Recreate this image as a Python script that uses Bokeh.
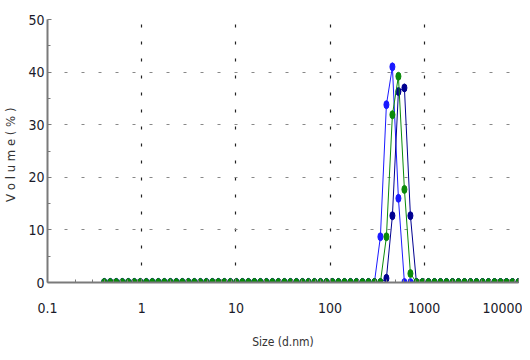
from bokeh.plotting import figure
from bokeh.models import Range1d, FixedTicker, ColumnDataSource
from bokeh.embed import file_html
from bokeh.resources import INLINE

# Size classes (d.nm), 70 log-spaced bins
sizes = [
    0.4000, 0.4632, 0.5364, 0.6213, 0.7195, 0.8332, 0.9649, 1.117, 1.294, 1.499,
    1.736, 2.010, 2.328, 2.696, 3.122, 3.615, 4.187, 4.849, 5.615, 6.503,
    7.531, 8.721, 10.10, 11.70, 13.54, 15.69, 18.17, 21.04, 24.36, 28.21,
    32.67, 37.84, 43.82, 50.75, 58.77, 68.06, 78.82, 91.28, 105.7, 122.4,
    141.8, 164.2, 190.1, 220.2, 255.0, 295.3, 342.0, 396.1, 458.7, 531.2,
    615.1, 712.4, 825.0, 955.4, 1106, 1281, 1484, 1718, 1990, 2305,
    2669, 3091, 3580, 4145, 4801, 5560, 6439, 7456, 8635, 10000,
]

# Volume (%) for three measurements
vol_blue = [
    0, 0, 0, 0, 0, 0, 0, 0, 0, 0,
    0, 0, 0, 0, 0, 0, 0, 0, 0, 0,
    0, 0, 0, 0, 0, 0, 0, 0, 0, 0,
    0, 0, 0, 0, 0, 0, 0, 0, 0, 0,
    0, 0, 0, 0, 0, 0, 8.7, 33.8, 41.0, 16.0,
    0, 0, 0, 0, 0, 0, 0, 0, 0, 0,
    0, 0, 0, 0, 0, 0, 0, 0, 0, 0,
]
vol_navy = [
    0, 0, 0, 0, 0, 0, 0, 0, 0, 0,
    0, 0, 0, 0, 0, 0, 0, 0, 0, 0,
    0, 0, 0, 0, 0, 0, 0, 0, 0, 0,
    0, 0, 0, 0, 0, 0, 0, 0, 0, 0,
    0, 0, 0, 0, 0, 0, 0, 0.8, 12.7, 36.3,
    37.0, 12.7, 0, 0, 0, 0, 0, 0, 0, 0,
    0, 0, 0, 0, 0, 0, 0, 0, 0, 0,
]
vol_green = [
    0, 0, 0, 0, 0, 0, 0, 0, 0, 0,
    0, 0, 0, 0, 0, 0, 0, 0, 0, 0,
    0, 0, 0, 0, 0, 0, 0, 0, 0, 0,
    0, 0, 0, 0, 0, 0, 0, 0, 0, 0,
    0, 0, 0, 0, 0, 0, 0, 8.7, 31.9, 39.2,
    17.7, 1.7, 0, 0, 0, 0, 0, 0, 0, 0,
    0, 0, 0, 0, 0, 0, 0, 0, 0, 0,
]

x_ticks = [0.1, 1, 10, 100, 1000, 10000]
x_tick_labels = ["0.1", "1", "10", "100", "1000", "10000"]
y_ticks = [0, 10, 20, 30, 40, 50]

FONT = "DejaVu Sans Condensed"

p = figure(width=522, height=352, x_axis_type="log",
           x_range=Range1d(0.1, 10000), y_range=Range1d(0, 50),
           output_backend="svg", toolbar_location=None,
           min_border_left=40, min_border_right=4,
           min_border_top=19, min_border_bottom=70)
p.outline_line_color = None
p.background_fill_color = "white"

minor_x = [m * 10.0 ** e for e in range(-1, 4) for m in range(2, 10)]
p.xaxis.ticker = FixedTicker(ticks=x_ticks, minor_ticks=minor_x)
p.xaxis.major_label_overrides = {t: l for t, l in zip(x_ticks, x_tick_labels)}
p.yaxis.ticker = FixedTicker(ticks=y_ticks, minor_ticks=[5, 15, 25, 35, 45])

for ax in (p.xaxis, p.yaxis):
    ax.axis_line_color = "#7a7a7a"
    ax.axis_line_width = 2
    ax.major_tick_line_color = "#7a7a7a"
    ax.minor_tick_line_color = "#7a7a7a"
    ax.major_tick_in = 4
    ax.major_tick_out = 0
    ax.minor_tick_in = 3
    ax.minor_tick_out = 0
    ax.major_label_text_font = FONT
    ax.major_label_text_font_size = "14px"
    ax.major_label_text_color = "#1a1a2a"
    ax.axis_label_text_font = FONT
    ax.axis_label_text_font_style = "normal"
    ax.axis_label_text_color = "#333333"

p.xaxis.major_label_standoff = 20
p.xaxis.axis_label = "Size (d.nm)"
p.xaxis.axis_label_text_font_size = "12px"
p.xaxis.axis_label_standoff = 19
p.yaxis.major_label_standoff = 3
p.yaxis.axis_label = "V o l u m e   ( % )"
p.yaxis.axis_label_text_font_size = "13px"
p.yaxis.axis_label_standoff = 7

p.xgrid.grid_line_color = "#222222"
p.xgrid.grid_line_dash = "3 14"
p.xgrid.grid_line_width = 1.2
p.ygrid.grid_line_color = "#888888"
p.ygrid.grid_line_dash = "3 14"
p.ygrid.grid_line_width = 1.2

series = [(vol_blue, "#1a1aff"), (vol_navy, "#000090"), (vol_green, "#0a8a0a")]
for vals, col in series:
    src = ColumnDataSource(dict(x=sizes, y=vals))
    p.line("x", "y", source=src, line_color=col, line_width=1)
    p.ellipse("x", "y", source=src, width=5, height=8,
              width_units="screen", height_units="screen",
              fill_color=col, line_color=col)

open("out.html", "w").write(file_html(p, INLINE))
